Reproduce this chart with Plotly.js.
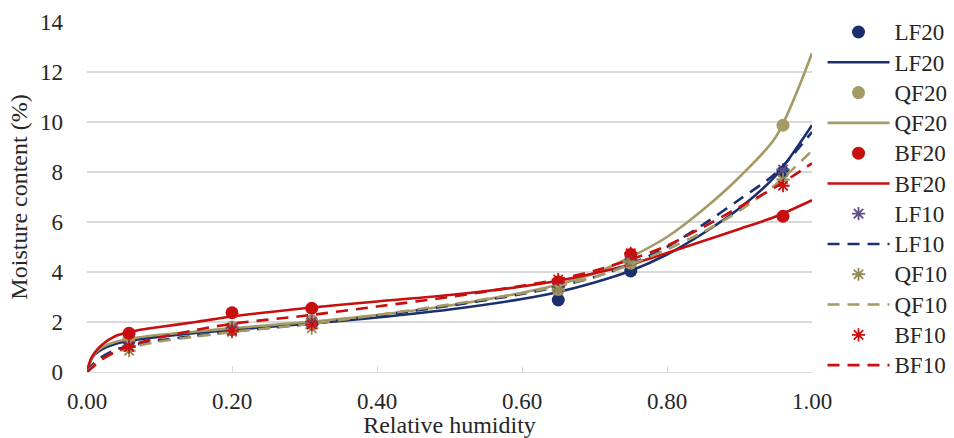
<!DOCTYPE html>
<html>
<head>
<meta charset="utf-8">
<script src="https://cdn.plot.ly/plotly-3.0.1.min.js"></script>
<style>html,body{margin:0;padding:0;background:#fff;}#chart{width:954px;height:438px;}</style>
</head>
<body>
<div id="chart"></div>
<script>
// Measured points (relative humidity)
const rhPoints = [0.058, 0.20, 0.31, 0.65, 0.75, 0.96];
const LF20_pts = [1.25, 1.70, 1.95, 2.88, 4.04, 8.00];
const QF20_pts = [1.35, 1.80, 2.05, 3.30, 4.35, 9.87];
const BF20_pts = [1.55, 2.37, 2.55, 3.60, 4.70, 6.23];
const LF10_pts = [1.05, 1.75, 2.00, 3.40, 4.50, 8.10];
const QF10_pts = [0.85, 1.60, 1.75, 3.30, 4.40, 7.70];
const BF10_pts = [1.00, 1.65, 1.90, 3.70, 4.75, 7.45];

// Fitted curves
const rhCurve = [0, 0.005, 0.01, 0.02, 0.04, 0.07, 0.10, 0.15, 0.20, 0.30, 0.40, 0.50, 0.60, 0.65, 0.70, 0.75, 0.80, 0.85, 0.90, 0.95, 1.00];
const LF20_fit = [0, 0.44, 0.68, 0.90, 1.13, 1.30, 1.41, 1.56, 1.69, 1.92, 2.18, 2.50, 2.92, 3.20, 3.58, 4.05, 4.70, 5.55, 6.55, 7.85, 9.87];
const QF20_fit = [0, 0.46, 0.71, 0.97, 1.21, 1.38, 1.49, 1.62, 1.75, 1.99, 2.28, 2.66, 3.17, 3.50, 3.95, 4.60, 5.40, 6.50, 7.80, 9.40, 12.75];
const BF20_fit = [0, 0.50, 0.75, 1.07, 1.45, 1.67, 1.80, 2.00, 2.22, 2.55, 2.82, 3.08, 3.42, 3.65, 3.95, 4.30, 4.76, 5.24, 5.72, 6.22, 6.87];
const LF10_fit = [0, 0.20, 0.36, 0.60, 0.90, 1.12, 1.27, 1.45, 1.62, 1.90, 2.25, 2.65, 3.12, 3.42, 3.80, 4.32, 5.00, 5.90, 6.90, 7.95, 9.60];
const QF10_fit = [0, 0.15, 0.28, 0.50, 0.80, 1.05, 1.22, 1.42, 1.60, 1.90, 2.28, 2.70, 3.15, 3.45, 3.80, 4.30, 4.90, 5.60, 6.45, 7.50, 8.85];
const BF10_fit = [0, 0.12, 0.25, 0.50, 0.82, 1.15, 1.38, 1.68, 1.93, 2.25, 2.62, 3.00, 3.45, 3.70, 4.05, 4.50, 5.05, 5.80, 6.60, 7.40, 8.35];

const xTicks = [0, 0.2, 0.4, 0.6, 0.8, 1.0];
const xTickText = ['0.00', '0.20', '0.40', '0.60', '0.80', '1.00'];
const yTicks = [0, 2, 4, 6, 8, 10, 12, 14];

const NAVY = '#1B2F6E', OLIVE = '#A39A66', RED = '#C80E0E', PURPLE = '#5E4F86', OLIVE_S = '#948A55';
const FONT = 'Liberation Serif, DejaVu Serif, serif';

function label(name) { return '<span style="font-size:23px">' + name + '</span>'; }
function dots(name, y, color, lg) {
  return {x: rhPoints, y: y, name: label(name), type: 'scatter', mode: 'markers', legend: lg,
    marker: {symbol: 'circle', size: 13, color: color, line: {width: 0}}};
}
function stars(name, y, color, lg) {
  return {x: rhPoints, y: y, name: label(name), type: 'scatter', mode: 'markers', legend: lg,
    marker: {symbol: 'asterisk-open', size: 11, color: color, line: {width: 1.8, color: color}}};
}
function curve(name, y, color, dash, lg) {
  return {x: rhCurve, y: y, name: label(name), type: 'scatter', mode: 'lines', legend: lg,
    line: {color: color, width: 2.6, dash: dash, shape: 'spline', smoothing: 0.8}};
}

const data = [
  dots('LF20', LF20_pts, NAVY, 'legend'),
  curve('LF20', LF20_fit, NAVY, 'solid', 'legend'),
  dots('QF20', QF20_pts, OLIVE, 'legend'),
  curve('QF20', QF20_fit, OLIVE, 'solid', 'legend'),
  dots('BF20', BF20_pts, RED, 'legend'),
  curve('BF20', BF20_fit, RED, 'solid', 'legend'),
  stars('LF10', LF10_pts, PURPLE, 'legend2'),
  curve('LF10', LF10_fit, NAVY, '12px,8px', 'legend2'),
  stars('QF10', QF10_pts, OLIVE_S, 'legend2'),
  curve('QF10', QF10_fit, OLIVE, '12px,8px', 'legend2'),
  stars('BF10', BF10_pts, RED, 'legend2'),
  curve('BF10', BF10_fit, RED, '12px,8px', 'legend2')
];

const legendBase = {xanchor: 'left', yanchor: 'top', itemwidth: 62,
  font: {family: FONT, size: 21, color: '#262626'}, bgcolor: 'rgba(0,0,0,0)', tracegroupgap: 0};

const layout = {
  width: 954, height: 438,
  margin: {l: 87, r: 142, t: 22, b: 66, autoexpand: false},
  paper_bgcolor: '#ffffff', plot_bgcolor: '#ffffff',
  font: {family: FONT, size: 21, color: '#262626'},
  showlegend: true,
  legend: Object.assign({x: 1.0145, y: 1.029}, legendBase),
  legend2: Object.assign({x: 1.0145, y: 0.51}, legendBase),
  xaxis: {range: [0, 1], tickvals: xTicks, ticktext: xTickText, showgrid: false, zeroline: false,
    showline: true, linecolor: '#D9D9D9', linewidth: 1.3, ticks: 'inside', ticklen: 6, tickcolor: '#D9D9D9',
    ticklabelstandoff: 8, tickfont: {family: FONT, size: 23, color: '#262626'},
    title: {text: 'Relative humidity', font: {family: FONT, size: 24, color: '#262626'}, standoff: 4}},
  yaxis: {range: [0, 14], tickvals: yTicks, showgrid: true, gridcolor: '#D9D9D9', gridwidth: 1.3,
    zeroline: false, showline: false, ticks: '', ticklabelstandoff: 23,
    tickfont: {family: FONT, size: 23, color: '#262626'},
    title: {text: 'Moisture content (%)', font: {family: FONT, size: 24, color: '#262626'}, standoff: 5}}
};

Plotly.newPlot('chart', data, layout, {displayModeBar: false, staticPlot: true});
</script>
</body>
</html>
